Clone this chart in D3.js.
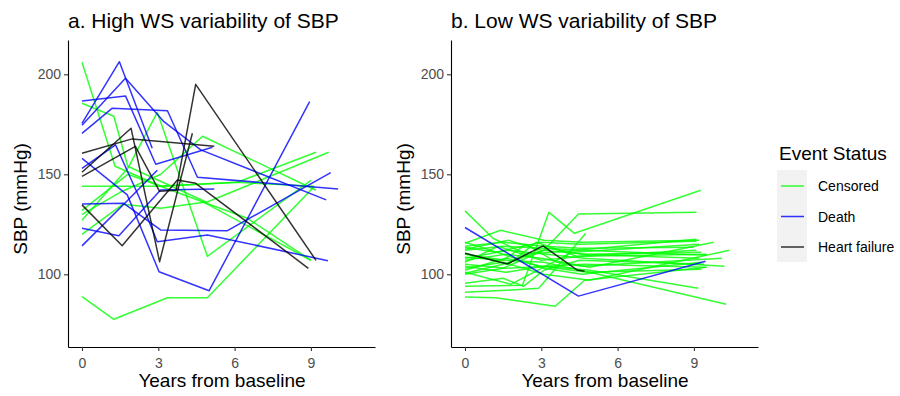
<!DOCTYPE html>
<html>
<head>
<meta charset="utf-8">
<script src="https://cdn.jsdelivr.net/npm/d3@7"></script>
<style>
  body { margin: 0; background: #fff; }
  svg text { font-family: "Liberation Sans", Arial, Helvetica, sans-serif; }
</style>
</head>
<body>
<svg id="chart" width="900" height="396"></svg>
<script>
// tick labels and categories
const yearTicks = [0, 3, 6, 9];
const sbpTicks = [100, 150, 200];
const statuses = ["Censored", "Death", "Heart failure"];
const statusColors = ["rgba(0,255,0,0.8)", "rgba(0,0,255,0.8)", "rgba(0,0,0,0.8)"];
const panelTitles = ["a. High WS variability of SBP", "b. Low WS variability of SBP"];

// panel a: each line is a list of [years, SBP]
const highCensored = [
  [[0, 206], [1.3, 154], [3.1, 144], [6.1, 146], [9.1, 144]],
  [[0, 185.5], [1.25, 179], [1.8, 154], [3.0, 147], [4.9, 136], [9.7, 161]],
  [[0, 127], [1.8, 153], [2.96, 181], [4.93, 109], [9.0, 147]],
  [[0, 144], [3.0, 144], [6.1, 146], [9.2, 161]],
  [[0, 130], [1.5, 141], [3.1, 150], [4.74, 169], [9.2, 142]],
  [[0, 120], [1.6, 135], [3.1, 133], [4.8, 136], [9.0, 107]],
  [[0, 88.8], [1.25, 77.5], [3.36, 88.3], [4.93, 88.3], [9.14, 144]],
  [[0, 132], [1.8, 150], [6.5, 128], [9.0, 107]]
];
const highDeath = [
  [[0, 175.5], [1.47, 206.3], [2.76, 163]],
  [[0, 174.5], [1.71, 198], [3.22, 176.3], [4.67, 162.2], [9.6, 137.2]],
  [[0, 186.7], [1.71, 189.2], [2.9, 155], [5.13, 163.5]],
  [[0, 170.5], [1.18, 183], [3.36, 181.8], [4.54, 148.5], [10.07, 142.7]],
  [[0, 158], [1.78, 139.7], [3.03, 101.3], [5.0, 91.8], [8.95, 186.3]],
  [[0, 153], [1.32, 164.7], [2.24, 138.8], [2.96, 116.3], [4.93, 119.7], [9.67, 106.8]],
  [[0, 135.2], [1.64, 135.5], [3.09, 122.2], [5.72, 121.8], [9.78, 150.8]],
  [[0, 123], [1.45, 119.3], [3.09, 142.2], [5.2, 142.7]],
  [[0, 114.2], [1.8, 137], [2.96, 152]]
];
const highHeartFailure = [
  [[0, 160.5], [1.97, 167.7], [5.2, 164]],
  [[0, 151], [1.93, 173], [3.05, 106.3], [4.34, 170.5]],
  [[0, 134.7], [1.58, 114.3], [3.75, 147.2], [4.47, 145.5], [8.9, 103]],
  [[0, 149], [2.1, 164], [3.05, 141.5], [3.7, 142], [4.47, 195], [9.2, 107]]
];

// panel b
const lowCensored = [
  [[0, 131.7], [1.1, 118], [2.4, 110], [4.4, 112], [9.1, 117.5]],
  [[0, 94], [2.26, 94.5], [3.3, 131], [4.3, 120.5], [9.27, 142]],
  [[0, 100], [1.5, 103], [3.1, 112], [4.46, 130.2], [9.1, 131]],
  [[0, 88.6], [1.2, 88.3], [3.55, 84], [4.7, 97], [9.5, 103.5]],
  [[0, 91], [1.6, 92], [2.9, 93], [4.75, 120.5]],
  [[0, 115.5], [1.4, 122], [3.1, 117], [4.6, 116], [9.2, 117]],
  [[0, 110], [1.6, 107], [3.1, 106], [4.9, 101], [10.27, 85]],
  [[0, 105], [1.6, 103], [3.2, 104], [4.9, 102], [9.17, 93]],
  [[0, 103], [1.5, 106], [3.1, 100], [4.9, 97], [10.4, 112]],
  [[0, 107], [1.6, 110], [3.0, 108], [4.9, 103.5], [9.78, 116]],
  [[0, 113.5], [1.2, 111], [3.0, 116], [4.5, 115], [9.1, 116.5]],
  [[0, 112], [1.5, 114], [3.1, 113], [4.7, 112], [9.48, 109.5]],
  [[0, 108], [1.7, 112], [3.2, 110], [4.7, 108], [10.2, 104]],
  [[0, 104], [1.6, 101], [3.1, 104], [4.7, 105], [9.48, 103.5]],
  [[0, 100.5], [1.5, 105], [3.3, 113], [4.6, 110], [9.2, 108]],
  [[0, 116], [1.5, 110], [3.1, 103], [4.6, 100], [9.3, 106]],
  [[0, 106], [1.3, 114], [3.0, 107], [4.6, 109], [9.5, 110]],
  [[0, 110.5], [1.7, 105], [2.8, 116], [4.4, 109], [9.1, 112]],
  [[0, 102], [1.6, 108], [3.0, 104], [4.8, 101], [9.3, 102.5]],
  [[0, 114], [1.5, 116], [3.1, 114], [4.5, 113], [9.0, 113.5]],
  [[0, 108.5], [1.5, 107], [2.4, 115], [3.6, 106], [4.6, 104], [10.1, 108]],
  [[0, 112.5], [1.7, 117], [3.0, 112], [4.8, 110], [9.3, 111]],
  [[0, 95.5], [1.5, 98], [2.3, 94], [3.1, 102], [4.5, 107], [9.4, 105]],
  [[0, 101], [1.8, 95], [3.0, 103], [4.2, 111], [9.2, 115]]
];
const lowDeath = [
  [[0, 123.4], [4.46, 89.1], [9.46, 106.5]]
];
const lowHeartFailure = [
  [[0, 110.5], [1.67, 105.2], [3.07, 114.2], [4.4, 102.2], [4.7, 101.5]]
];

const panels = [
  { left: 68, series: [highCensored, highDeath, highHeartFailure] },
  { left: 451, series: [lowCensored, lowDeath, lowHeartFailure] }
];

const svg = d3.select("#chart");
const plotTop = 40, plotBottom = 347, panelWidth = 307;

const y = d3.scaleLinear().domain([63.65, 217.15]).range([plotBottom, plotTop]);

panels.forEach(function(p, i) {
  const x = d3.scaleLinear().domain([-0.55, 11.52]).range([p.left, p.left + panelWidth]);
  const g = svg.append("g");

  const line = d3.line().x(d => x(d[0])).y(d => y(d[1]));

  p.series.forEach(function(lines, s) {
    g.append("g").selectAll("path")
      .data(lines)
      .enter().append("path")
      .attr("d", line)
      .attr("fill", "none")
      .attr("stroke", statusColors[s])
      .attr("stroke-width", 1.5)
      .attr("stroke-linejoin", "round");
  });

  const xAxis = g.append("g")
    .attr("transform", "translate(0," + plotBottom + ")")
    .call(d3.axisBottom(x).tickValues(yearTicks).tickSize(4).tickSizeOuter(0).tickPadding(7));
  const yAxis = g.append("g")
    .attr("transform", "translate(" + p.left + ",0)")
    .call(d3.axisLeft(y).tickValues(sbpTicks).tickSize(4).tickSizeOuter(0).tickPadding(3));

  [xAxis, yAxis].forEach(function(a) {
    a.select(".domain").attr("stroke", "#000").attr("stroke-width", 1.1);
    a.selectAll(".tick line").attr("stroke", "#333").attr("stroke-width", 1.1);
    a.selectAll(".tick text").attr("fill", "#4d4d4d").style("font-size", "14px");
  });

  svg.append("text")
    .attr("x", p.left)
    .attr("y", 28)
    .style("font-size", "21px")
    .attr("fill", "#000")
    .text(panelTitles[i]);

  svg.append("text")
    .attr("x", p.left + 154)
    .attr("y", 387)
    .attr("text-anchor", "middle")
    .style("font-size", "19px")
    .text("Years from baseline");

  svg.append("text")
    .attr("transform", "translate(" + (p.left - 41.5) + ",199) rotate(-90)")
    .attr("text-anchor", "middle")
    .style("font-size", "19px")
    .text("SBP (mmHg)");
});

// legend
const legend = svg.append("g").attr("transform", "translate(777,0)");
legend.append("text")
  .attr("x", 2)
  .attr("y", 160)
  .style("font-size", "19px")
  .text("Event Status");

legend.append("rect")
  .attr("x", 0).attr("y", 170)
  .attr("width", 30).attr("height", 92)
  .attr("fill", "#f2f2f2");

const item = legend.selectAll(".item")
  .data(statuses)
  .enter().append("g")
  .attr("class", "item")
  .attr("transform", (d, i) => "translate(0," + (186 + i * 30.5) + ")");

item.append("line")
  .attr("x1", 4).attr("x2", 27)
  .attr("stroke", (d, i) => statusColors[i])
  .attr("stroke-width", 1.5);

item.append("text")
  .attr("x", 41)
  .attr("y", 5)
  .style("font-size", "14px")
  .text(d => d);
</script>
</body>
</html>
